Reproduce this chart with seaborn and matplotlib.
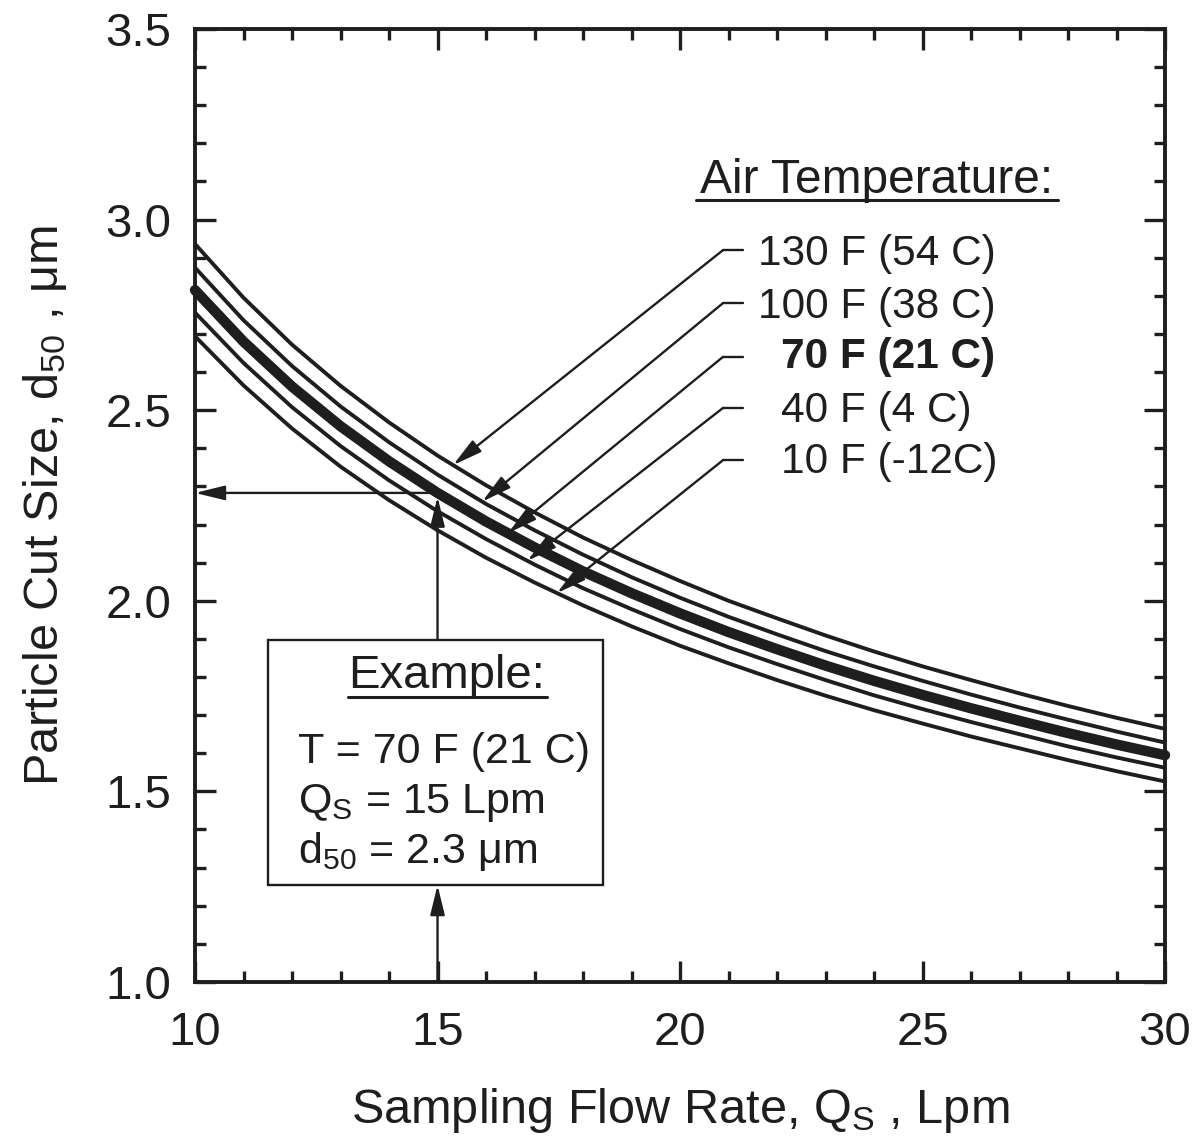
import matplotlib
matplotlib.use("Agg")
import matplotlib.pyplot as plt
import pandas as pd
import seaborn as sns
from matplotlib.patches import Rectangle
from matplotlib.ticker import MultipleLocator

# ---------------- data ----------------
flow_rate = [10, 11, 12, 13, 14, 15, 16, 17, 18, 19, 20,
             21, 22, 23, 24, 25, 26, 27, 28, 29, 30]
d50_130F = [2.936, 2.795, 2.672, 2.564, 2.468, 2.381, 2.303, 2.232, 2.166, 2.107, 2.052,
            2.000, 1.954, 1.909, 1.867, 1.828, 1.792, 1.757, 1.724, 1.693, 1.664]
d50_100F = [2.874, 2.736, 2.616, 2.510, 2.416, 2.331, 2.254, 2.185, 2.121, 2.062, 2.008,
            1.958, 1.912, 1.868, 1.828, 1.790, 1.754, 1.720, 1.688, 1.657, 1.628]
d50_70F = [2.815, 2.680, 2.562, 2.458, 2.366, 2.283, 2.208, 2.140, 2.077, 2.020, 1.967,
           1.918, 1.873, 1.830, 1.790, 1.753, 1.718, 1.685, 1.653, 1.623, 1.595]
d50_40F = [2.756, 2.624, 2.508, 2.406, 2.316, 2.235, 2.162, 2.095, 2.033, 1.978, 1.926,
           1.878, 1.834, 1.792, 1.752, 1.716, 1.682, 1.650, 1.618, 1.589, 1.562]
d50_10F = [2.694, 2.565, 2.452, 2.352, 2.264, 2.185, 2.113, 2.048, 1.988, 1.933, 1.882,
           1.836, 1.792, 1.751, 1.713, 1.678, 1.644, 1.613, 1.582, 1.553, 1.526]

series_labels = ["130 F (54 C)", "100 F (38 C)", "70 F (21 C)", "40 F (4 C)", "10 F (-12C)"]
series_values = [d50_130F, d50_100F, d50_70F, d50_40F, d50_10F]

# where each label's arrow lands on its curve
arrow_tip_q = [15.32, 15.92, 16.45, 16.85, 17.46]
arrow_tip_d = [2.356, 2.260, 2.177, 2.105, 2.020]

example_q = 15.0
example_d50 = 2.283

x_ticks = [10, 15, 20, 25, 30]
y_ticks = [1.0, 1.5, 2.0, 2.5, 3.0, 3.5]

# ---------------- styling ----------------
sns.set_theme(style="ticks")
plt.rcParams["font.family"] = ["Liberation Sans", "DejaVu Sans"]
plt.rcParams["mathtext.fontset"] = "custom"
plt.rcParams["mathtext.rm"] = "Liberation Sans"
plt.rcParams["mathtext.it"] = "Liberation Sans:italic"
plt.rcParams["mathtext.bf"] = "Liberation Sans:bold"
plt.rcParams["mathtext.default"] = "regular"

rows = []
for name, vals in zip(series_labels, series_values):
    for q, d in zip(flow_rate, vals):
        rows.append({"Q": q, "d50": d, "T": name})
df = pd.DataFrame(rows)

fig = plt.figure(figsize=(11.95, 11.43), dpi=100)
ax = fig.add_axes([0.1632, 0.1409, 0.8117, 0.8337])

tc = "#1e1e1e"
for name in series_labels:
    bold = name.startswith("70")
    sns.lineplot(data=df[df["T"] == name], x="Q", y="d50", estimator=None,
                 color=tc, linewidth=7.5 if bold else 2.8, ax=ax,
                 legend=False, solid_capstyle="round" if bold else "butt",
                 clip_on=not bold, zorder=3)

ax.set_xlim(10, 30)
ax.set_ylim(1.0, 3.5)
ax.set_xticks(x_ticks)
ax.set_yticks(y_ticks)
ax.set_yticklabels([f"{v:.1f}" for v in y_ticks])
ax.xaxis.set_minor_locator(MultipleLocator(1))
ax.yaxis.set_minor_locator(MultipleLocator(0.1))
ax.tick_params(which="both", direction="in", top=True, right=True,
               color=tc, width=2.4, labelcolor=tc)
ax.tick_params(which="major", length=15, labelsize=34, pad=17)
ax.tick_params(axis="x", which="major", pad=21)
ax.tick_params(which="minor", length=8)
for s in ax.spines.values():
    s.set_linewidth(2.8)
    s.set_color(tc)

ax.set_xlabel("Sampling Flow Rate, Q$_\\mathregular{S}$ , Lpm", fontsize=35, labelpad=22,
              color=tc)
ax.set_ylabel("Particle Cut Size, d$_{50}$ , \u03bcm", fontsize=35, labelpad=26,
              color=tc)

# Air temperature title
ax.text(24.06, 3.070, "Air Temperature:", fontsize=34.5, ha="center", va="baseline", color=tc)
ax.plot([20.33, 27.79], [3.051, 3.051], color=tc, lw=2.2)

label_base = [2.881, 2.742, 2.611, 2.469, 2.335]
label_x = [21.608, 21.608, 22.082, 22.082, 22.082]
leader_y = [2.920, 2.781, 2.640, 2.506, 2.369]
for i, name in enumerate(series_labels):
    ax.text(label_x[i], label_base[i], name, fontsize=30.5, ha="left", va="baseline",
            color=tc, fontweight="bold" if name.startswith("70") else "normal")
    ax.plot([20.887, 21.30], [leader_y[i], leader_y[i]], color=tc, lw=1.7)
    ax.annotate("", xy=(arrow_tip_q[i], arrow_tip_d[i]), xytext=(20.887, leader_y[i]),
                arrowprops=dict(arrowstyle="-|>,head_length=0.9,head_width=0.22",
                                mutation_scale=20, color=tc, lw=1.7,
                                shrinkA=0, shrinkB=0), zorder=4)

# Example box
ax.add_patch(Rectangle((11.505, 1.254), 18.41 - 11.505, 1.897 - 1.254,
                       facecolor="white", edgecolor=tc, lw=1.7, zorder=5))
ax.text(15.196, 1.771, "Example:", fontsize=34, ha="center", va="baseline", color=tc, zorder=6)
ax.plot([13.155, 17.258], [1.748, 1.748], color=tc, lw=2.2, zorder=6)
ax.text(12.124, 1.575, "T = 70 F (21 C)", fontsize=31, ha="left", va="baseline", color=tc, zorder=6)
ax.text(12.124, 1.443, "Q$_\\mathregular{S}$ = 15 Lpm", fontsize=31, ha="left", va="baseline",
        color=tc, zorder=6)
ax.text(12.124, 1.312, "d$_{50}$ = 2.3 \u03bcm", fontsize=31, ha="left", va="baseline",
        color=tc, zorder=6)

arrow_kw = dict(arrowstyle="-|>,head_length=0.9,head_width=0.22", mutation_scale=20,
                color=tc, lw=1.7, shrinkA=0, shrinkB=0)
ax.annotate("", xy=(example_q, 1.254), xytext=(example_q, 1.0), arrowprops=arrow_kw, zorder=4)
ax.annotate("", xy=(example_q, example_d50 - 0.01), xytext=(example_q, 1.897),
            arrowprops=arrow_kw, zorder=4)
ax.annotate("", xy=(10.0, example_d50), xytext=(example_q, example_d50),
            arrowprops=arrow_kw, zorder=4)

fig.savefig("out.png", dpi=100, facecolor="white")
